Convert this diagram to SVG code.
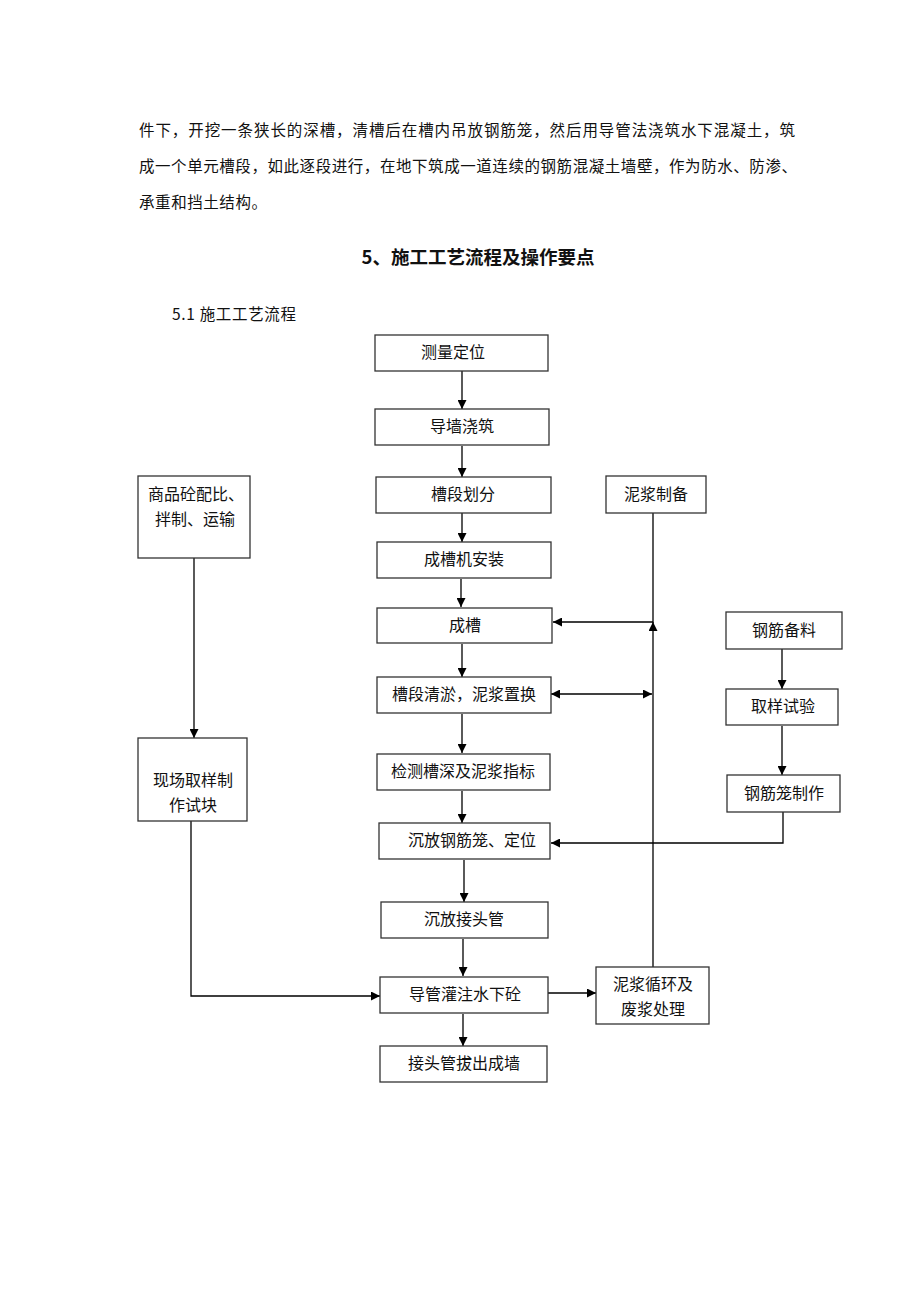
<svg xmlns="http://www.w3.org/2000/svg" width="920" height="1302" viewBox="0 0 920 1302">
<defs>
<style>
.t{font-family:"Noto Sans CJK SC","Liberation Serif",sans-serif;fill:#111;}
.p{font-size:15.5px;}
.b{font-size:16px;text-anchor:middle;}
.h{font-size:18.5px;font-weight:bold;text-anchor:middle;}
.box{fill:#fff;stroke:#333;stroke-width:1.3;}
.c{fill:none;stroke:#000;stroke-width:1.3;}
</style>
<marker id="ah" viewBox="0 0 10 10" refX="10" refY="5" markerWidth="9" markerHeight="9" markerUnits="userSpaceOnUse" orient="auto-start-reverse">
<path d="M0,0 L10,5 L0,10 z" fill="#000"/>
</marker>
</defs>
<rect width="920" height="1302" fill="#fff"/>
<g id="text-block">
<text class="t p" x="139" y="136" textLength="656" lengthAdjust="spacing">件下，开挖一条狭长的深槽，清槽后在槽内吊放钢筋笼，然后用导管法浇筑水下混凝土，筑</text>
<text class="t p" x="139" y="172" textLength="658" lengthAdjust="spacing">成一个单元槽段，如此逐段进行，在地下筑成一道连续的钢筋混凝土墙壁，作为防水、防渗、</text>
<text class="t p" x="139" y="208" textLength="128" lengthAdjust="spacing">承重和挡土结构。</text>
<text class="t h" x="478" y="264">5、施工工艺流程及操作要点</text>
<text class="t" x="172" y="320" style="font-size:15.5px" textLength="124" lengthAdjust="spacing">5.1 施工工艺流程</text>
</g>
<g id="connectors">
<line class="c" x1="462" y1="371" x2="462" y2="409" marker-end="url(#ah)"/>
<line class="c" x1="462" y1="446" x2="462" y2="477" marker-end="url(#ah)"/>
<line class="c" x1="462" y1="513" x2="462" y2="542" marker-end="url(#ah)"/>
<line class="c" x1="461" y1="579" x2="461" y2="607" marker-end="url(#ah)"/>
<line class="c" x1="462" y1="644" x2="462" y2="677" marker-end="url(#ah)"/>
<line class="c" x1="462" y1="714" x2="462" y2="753" marker-end="url(#ah)"/>
<line class="c" x1="462" y1="791" x2="462" y2="823" marker-end="url(#ah)"/>
<line class="c" x1="464" y1="860" x2="464" y2="902" marker-end="url(#ah)"/>
<line class="c" x1="463" y1="939" x2="463" y2="976" marker-end="url(#ah)"/>
<line class="c" x1="463" y1="1014" x2="463" y2="1046" marker-end="url(#ah)"/>
<polyline class="c" points="653,513 653,622 553,622" marker-end="url(#ah)"/>
<line class="c" x1="653" y1="967" x2="653" y2="622" marker-end="url(#ah)"/>
<line class="c" x1="551" y1="694" x2="652" y2="694" marker-start="url(#ah)" marker-end="url(#ah)"/>
<line class="c" x1="782" y1="649" x2="782" y2="689" marker-end="url(#ah)"/>
<line class="c" x1="782" y1="726" x2="782" y2="775" marker-end="url(#ah)"/>
<polyline class="c" points="783,812 783,843 551,843" marker-end="url(#ah)"/>
<line class="c" x1="194" y1="558" x2="194" y2="738" marker-end="url(#ah)"/>
<polyline class="c" points="191,821 191,996 380,996" marker-end="url(#ah)"/>
<line class="c" x1="548" y1="993" x2="596" y2="993" marker-end="url(#ah)"/>
</g>
<g id="n1"><rect class="box" x="375" y="335" width="173" height="36"/><text class="t b" x="453" y="358">测量定位</text></g>
<g id="n2"><rect class="box" x="375" y="409" width="174" height="36"/><text class="t b" x="462" y="432">导墙浇筑</text></g>
<g id="n3"><rect class="box" x="376" y="477" width="175" height="36"/><text class="t b" x="463" y="500">槽段划分</text></g>
<g id="n4"><rect class="box" x="377" y="542" width="174" height="36"/><text class="t b" x="464" y="565">成槽机安装</text></g>
<g id="n5"><rect class="box" x="377" y="608" width="175" height="35"/><text class="t b" x="465" y="631">成槽</text></g>
<g id="n6"><rect class="box" x="377" y="677" width="174" height="36"/><text class="t b" x="464" y="700">槽段清淤，泥浆置换</text></g>
<g id="n7"><rect class="box" x="377" y="754" width="173" height="36"/><text class="t b" x="463" y="777">检测槽深及泥浆指标</text></g>
<g id="n8"><rect class="box" x="379" y="823" width="171" height="36"/><text class="t b" x="472" y="846">沉放钢筋笼、定位</text></g>
<g id="n9"><rect class="box" x="381" y="902" width="167" height="36"/><text class="t b" x="464" y="925">沉放接头管</text></g>
<g id="n10"><rect class="box" x="380" y="977" width="168" height="36"/><text class="t b" x="465" y="1000">导管灌注水下砼</text></g>
<g id="n11"><rect class="box" x="380" y="1046" width="167" height="36"/><text class="t b" x="464" y="1069">接头管拔出成墙</text></g>
<g id="n12"><rect class="box" x="606" y="476" width="100" height="37"/><text class="t b" x="656" y="500">泥浆制备</text></g>
<g id="n13"><rect class="box" x="138" y="476" width="112" height="82"/><text class="t b" x="196" y="500">商品砼配比、</text><text class="t b" x="195" y="525">拌制、运输</text></g>
<g id="n14"><rect class="box" x="138" y="738" width="109" height="83"/><text class="t b" x="193" y="786">现场取样制</text><text class="t b" x="193" y="811">作试块</text></g>
<g id="n15"><rect class="box" x="726" y="612" width="116" height="37"/><text class="t b" x="784" y="636">钢筋备料</text></g>
<g id="n16"><rect class="box" x="726" y="689" width="112" height="36"/><text class="t b" x="783" y="712">取样试验</text></g>
<g id="n17"><rect class="box" x="727" y="775" width="113" height="37"/><text class="t b" x="784" y="799">钢筋笼制作</text></g>
<g id="n18"><rect class="box" x="596" y="967" width="113" height="57"/><text class="t b" x="653" y="990">泥浆循环及</text><text class="t b" x="653" y="1015">废浆处理</text></g>
</svg>
